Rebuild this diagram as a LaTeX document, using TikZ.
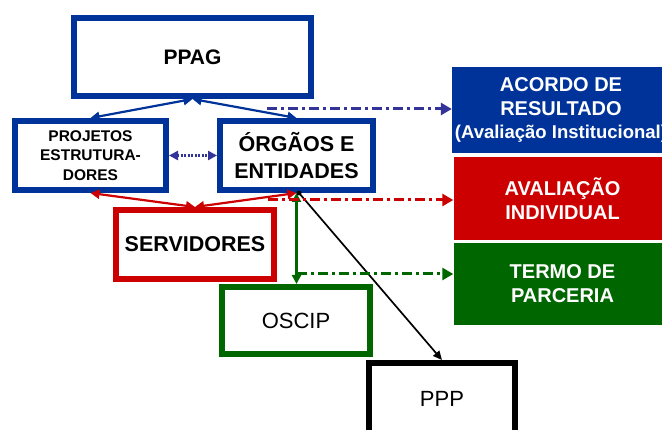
\documentclass[tikz,border=0pt]{standalone}
\usepackage{fontspec}
\setmainfont{Liberation Sans}
\usetikzlibrary{arrows.meta}
\definecolor{bxblue}{HTML}{003399}
\definecolor{bxred}{HTML}{CC0000}
\definecolor{bxgreen}{HTML}{006600}
\definecolor{lnblue}{HTML}{333399}
\begin{document}
\begin{tikzpicture}[x=1pt,y=-1pt,
  frame/.style={draw, line width=6pt, fill=white, inner sep=0pt, align=center},
  panel/.style={inner sep=0pt, align=center, text=white, minimum width=218pt,
    font=\bfseries\fontsize{20}{24}\selectfont},
  twoway/.style={{Triangle[length=9pt,width=9pt]}-{Triangle[length=9pt,width=9pt]}, line width=2.2pt},
  dashdot/.style={-{Triangle[length=11pt,width=12pt]}, line width=3pt,
    dash pattern=on 10pt off 4pt on 3pt off 4pt},
]
\useasboundingbox (0,0) rectangle (662,430);
\clip (0,0) rectangle (662,430);

% framed boxes
\node[frame, draw=bxblue, minimum width=237pt, minimum height=78pt,
  font=\bfseries\fontsize{21}{25}\selectfont] (ppag) at (192.5,57) {PPAG};
\node[frame, draw=bxblue, minimum width=151pt, minimum height=69pt,
  font=\bfseries\fontsize{15.5}{19.5}\selectfont] (proj) at (90.5,155.5) {PROJETOS\\ESTRUTURA-\\DORES};
\node[frame, draw=bxblue, minimum width=153pt, minimum height=69pt,
  font=\bfseries\fontsize{21.5}{27}\selectfont] (org) at (296.5,155.5) {ÓRGÃOS E\\ENTIDADES};
\node[frame, draw=bxred, minimum width=158pt, minimum height=69pt,
  font=\bfseries\fontsize{21.5}{26}\selectfont] (serv) at (195,244.5) {SERVIDORES};
\node[frame, draw=bxgreen, minimum width=148pt, minimum height=67pt,
  font=\fontsize{22}{26}\selectfont] (oscip) at (296,320.5) {OSCIP};
\node[frame, draw=black, minimum width=146pt, minimum height=72pt,
  font=\fontsize{22}{26}\selectfont] (ppp) at (442,399) {PPP};

% filled panels on the right
\node[panel, fill=bxblue, minimum height=86pt] (acordo) at (561,110)
  {ACORDO DE\\RESULTADO\\[-1pt]{\fontsize{18.5}{22}\selectfont (Avaliação Institucional)}};
\node[panel, fill=bxred, minimum height=83pt] (aval) at (562.5,198.5)
  {AVALIAÇÃO\\INDIVIDUAL};
\node[panel, fill=bxgreen, minimum height=82pt] (termo) at (562.5,284)
  {TERMO DE\\PARCERIA};

% links among the framed boxes
\draw[bxblue, twoway] (ppag.south) -- (proj.north);
\draw[bxblue, twoway] (ppag.south) -- (org.north);
\draw[lnblue, twoway, dash pattern=on 2pt off 1.5pt, line width=2.8pt] (proj.east) -- (org.west);
\draw[bxred, twoway] (serv.north) -- (proj.south);
\draw[bxred, twoway] (serv.north) -- (org.south);
\draw[bxgreen, twoway] (org.south) -- (org.south |- oscip.north);
\coordinate (pstart) at ([xshift=2.5pt]org.south);
\draw[black, line width=1.7pt, -{Triangle[length=9pt,width=8pt]}] (pstart) -- (ppp.north);
\fill[black] (pstart) circle (2.5pt);

% links to the panels
\coordinate (bstart) at (267,109);
\coordinate (rstart) at (268,200);
\coordinate (gstart) at (297,274);
\draw[lnblue, dashdot] (bstart) -- (bstart -| acordo.west);
\draw[bxred, dashdot] (rstart) -- (rstart -| aval.west);
\draw[bxgreen, dashdot] (gstart) -- (gstart -| termo.west);
\end{tikzpicture}
\end{document}
